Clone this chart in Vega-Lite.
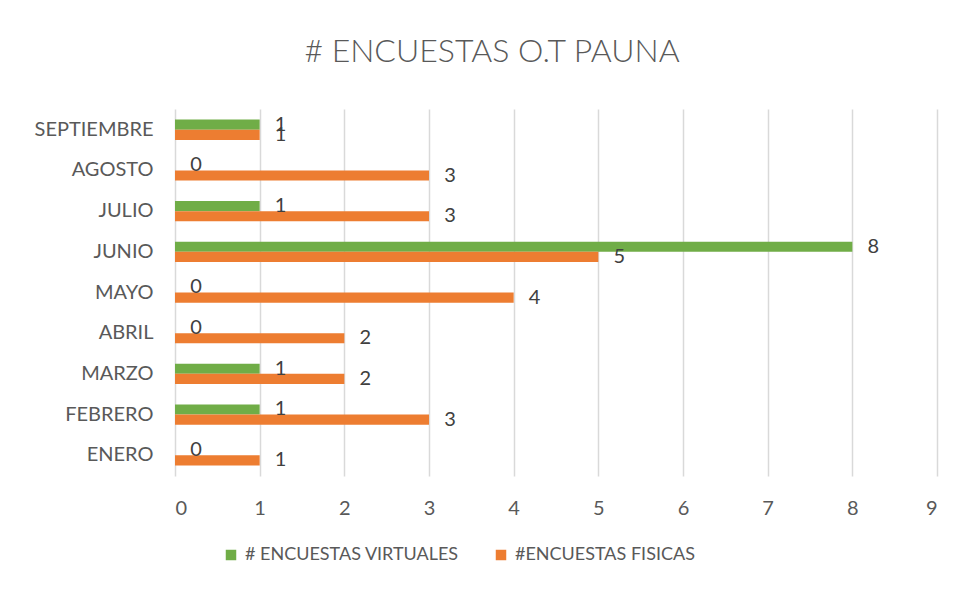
{
  "$schema": "https://vega.github.io/schema/vega-lite/v6.json",
  "width": 762,
  "height": 367,
  "autosize": {"type": "none"},
  "padding": {"left": 175, "top": 109, "right": 24, "bottom": 117},
  "background": "white",
  "title": {
    "text": "# ENCUESTAS O.T PAUNA",
    "font": "Lato",
    "fontWeight": 300,
    "fontSize": 32,
    "color": "#595959",
    "anchor": "middle",
    "frame": "group",
    "dx": -64,
    "offset": 40
  },
  "data": {
    "values": [
      {"mes": "SEPTIEMBRE", "serie": "# ENCUESTAS VIRTUALES", "valor": 1},
      {"mes": "SEPTIEMBRE", "serie": "#ENCUESTAS FISICAS", "valor": 1},
      {"mes": "AGOSTO", "serie": "# ENCUESTAS VIRTUALES", "valor": 0},
      {"mes": "AGOSTO", "serie": "#ENCUESTAS FISICAS", "valor": 3},
      {"mes": "JULIO", "serie": "# ENCUESTAS VIRTUALES", "valor": 1},
      {"mes": "JULIO", "serie": "#ENCUESTAS FISICAS", "valor": 3},
      {"mes": "JUNIO", "serie": "# ENCUESTAS VIRTUALES", "valor": 8},
      {"mes": "JUNIO", "serie": "#ENCUESTAS FISICAS", "valor": 5},
      {"mes": "MAYO", "serie": "# ENCUESTAS VIRTUALES", "valor": 0},
      {"mes": "MAYO", "serie": "#ENCUESTAS FISICAS", "valor": 4},
      {"mes": "ABRIL", "serie": "# ENCUESTAS VIRTUALES", "valor": 0},
      {"mes": "ABRIL", "serie": "#ENCUESTAS FISICAS", "valor": 2},
      {"mes": "MARZO", "serie": "# ENCUESTAS VIRTUALES", "valor": 1},
      {"mes": "MARZO", "serie": "#ENCUESTAS FISICAS", "valor": 2},
      {"mes": "FEBRERO", "serie": "# ENCUESTAS VIRTUALES", "valor": 1},
      {"mes": "FEBRERO", "serie": "#ENCUESTAS FISICAS", "valor": 3},
      {"mes": "ENERO", "serie": "# ENCUESTAS VIRTUALES", "valor": 0},
      {"mes": "ENERO", "serie": "#ENCUESTAS FISICAS", "valor": 1}
    ]
  },
  "encoding": {
    "y": {
      "field": "mes",
      "type": "nominal",
      "sort": ["SEPTIEMBRE", "AGOSTO", "JULIO", "JUNIO", "MAYO", "ABRIL", "MARZO", "FEBRERO", "ENERO"],
      "scale": {"paddingInner": 0.5, "paddingOuter": 0.26},
      "axis": {
        "title": null,
        "domain": false,
        "ticks": false,
        "grid": false,
        "labelPadding": 22,
        "labelFont": "Lato",
        "labelFontSize": 20,
        "labelColor": "#595959"
      }
    },
    "yOffset": {
      "field": "serie",
      "type": "nominal",
      "sort": ["# ENCUESTAS VIRTUALES", "#ENCUESTAS FISICAS"]
    },
    "x": {
      "field": "valor",
      "type": "quantitative",
      "scale": {"domain": [0, 9], "nice": false},
      "axis": {
        "title": null,
        "values": [0, 1, 2, 3, 4, 5, 6, 7, 8, 9],
        "domain": false,
        "ticks": false,
        "grid": true,
        "gridColor": "#D9D9D9",
        "gridWidth": 1.5,
        "labelPadding": 22,
        "labelFont": "Lato",
        "labelFontSize": 20,
        "labelColor": "#595959"
      }
    }
  },
  "layer": [
    {
      "mark": {"type": "bar"},
      "encoding": {
        "color": {
          "field": "serie",
          "type": "nominal",
          "scale": {
            "domain": ["# ENCUESTAS VIRTUALES", "#ENCUESTAS FISICAS"],
            "range": ["#70AD47", "#ED7D31"]
          },
          "legend": {
            "title": null,
            "orient": "none",
            "direction": "horizontal",
            "legendX": 47,
            "legendY": 437,
            "symbolType": "square",
            "symbolSize": 110,
            "symbolStrokeWidth": 0,
            "labelFont": "Lato",
            "labelFontSize": 18,
            "labelLimit": 0,
            "labelColor": "#595959",
            "labelOffset": 5,
            "columnPadding": 33
          }
        }
      }
    },
    {
      "mark": {
        "type": "text",
        "align": "center",
        "baseline": "middle",
        "dx": 21,
        "font": "Lato",
        "fontSize": 20,
        "color": "#404040"
      },
      "encoding": {
        "text": {"field": "valor", "type": "quantitative"}
      }
    }
  ],
  "config": {
    "view": {"stroke": null}
  }
}
